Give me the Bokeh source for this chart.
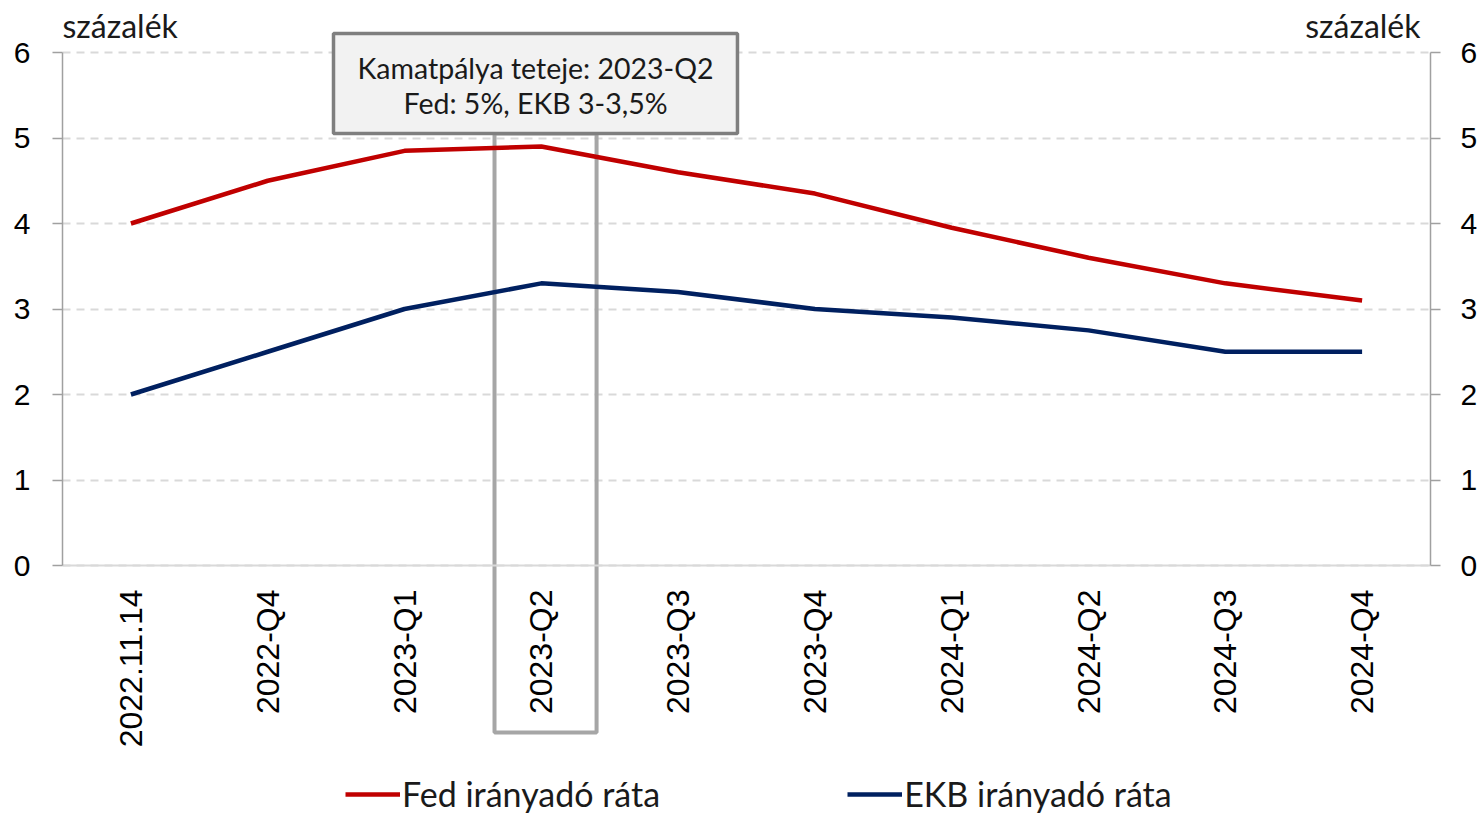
import math
from bokeh.plotting import figure
from bokeh.models import (ColumnDataSource, FactorRange, Range1d, LinearAxis, FixedTicker,
                          BoxAnnotation, Label, Legend, LegendItem)
from bokeh.embed import file_html
from bokeh.resources import INLINE

categories = ["2022.11.14", "2022-Q4", "2023-Q1", "2023-Q2", "2023-Q3",
              "2023-Q4", "2024-Q1", "2024-Q2", "2024-Q3", "2024-Q4"]
fed_rate = [4.0, 4.5, 4.85, 4.9, 4.6, 4.35, 3.95, 3.6, 3.3, 3.1]
ekb_rate = [2.0, 2.5, 3.0, 3.3, 3.2, 3.0, 2.9, 2.75, 2.5, 2.5]
y_ticks = [0, 1, 2, 3, 4, 5, 6]
unit_label = "százalék"
note_lines = ["Kamatpálya teteje: 2023-Q2", "Fed: 5%, EKB 3-3,5%"]
peak_category = "2023-Q2"
series_names = ["Fed irányadó ráta", "EKB irányadó ráta"]

FED_COLOR = "#c00000"
EKB_COLOR = "#002060"
AXIS_COLOR = "#a0a0a0"
TEXT_FONT = "Lato"
TICK_FONT = "Liberation Sans"

src = ColumnDataSource(dict(cat=categories, fed=fed_rate, ekb=ekb_rate))

W, H = 1480, 814
p = figure(width=W, height=H, x_range=FactorRange(*categories, range_padding=0),
           y_range=Range1d(-(H - 565) / 85.5, 565 / 85.5), output_backend="svg",
           toolbar_location=None,
           min_border_left=62, min_border_right=W - 1430, min_border_top=0, min_border_bottom=0)
p.outline_line_color = None
p.background_fill_color = "white"

# grid
p.xgrid.grid_line_color = None
p.ygrid.ticker = FixedTicker(ticks=y_ticks)
p.ygrid.grid_line_color = "#d9d9d9"
p.ygrid.grid_line_width = 2
p.ygrid.grid_line_dash = "8 6"

# x axis, fixed at y = 0
xa = p.xaxis[0]
xa.fixed_location = 0
xa.axis_line_color = "#d9d9d9"
xa.axis_line_width = 2
xa.major_tick_line_color = None
xa.major_tick_out = 0
xa.major_tick_in = 0
xa.major_label_orientation = math.pi / 2
xa.major_label_standoff = 24
xa.major_label_text_font = TICK_FONT
xa.major_label_text_font_size = "32px"
xa.major_label_text_color = "black"

# y axes
ya = p.yaxis[0]
ra = LinearAxis()
p.add_layout(ra, "right")
for ax in (ya, ra):
    ax.ticker = FixedTicker(ticks=y_ticks)
    ax.bounds = (0, 6)
    ax.axis_line_color = AXIS_COLOR
    ax.axis_line_width = 1.5
    ax.major_tick_line_color = AXIS_COLOR
    ax.major_tick_line_width = 1.5
    ax.major_tick_out = 10
    ax.major_tick_in = 0
    ax.minor_tick_line_color = None
    ax.major_label_text_font = TICK_FONT
    ax.major_label_text_font_size = "30px"
    ax.major_label_text_color = "black"
ya.major_label_standoff = 22
ra.major_label_standoff = 20

# highlight rectangle around peak and note box
c = categories.index(peak_category) + 0.5
rect = BoxAnnotation(left=c - 0.342, right=c + 0.404, top=5.053, bottom=-1.953,
                     fill_color=None, fill_alpha=0, line_color="#a6a6a6", line_alpha=1,
                     line_width=4, level="underlay")
p.add_layout(rect)
box = BoxAnnotation(left=c - 1.519, right=c + 1.434, top=6.222, bottom=5.053,
                    fill_color="#f2f2f2", fill_alpha=1, line_color="#7f7f7f", line_alpha=1,
                    line_width=3.5, level="underlay")
p.add_layout(box)
for txt, yy in zip(note_lines, [5.813, 5.404]):
    p.add_layout(Label(x=c - 0.042, y=yy, text=txt, text_align="center", text_baseline="middle",
                       text_font=TEXT_FONT, text_font_size="28.5px", text_color="#1a1a1a"))

# unit labels
p.add_layout(Label(x=0.0, y=6.316, text=unit_label, text_align="left", text_baseline="middle",
                   text_font=TEXT_FONT, text_font_size="32px", text_color="#1a1a1a"))
p.add_layout(Label(x=9.927, y=6.316, text=unit_label, text_align="right", text_baseline="middle",
                   text_font=TEXT_FONT, text_font_size="32px", text_color="#1a1a1a"))

# lines
r_fed = p.line("cat", "fed", source=src, line_color=FED_COLOR, line_width=4.5)
r_ekb = p.line("cat", "ekb", source=src, line_color=EKB_COLOR, line_width=4.5)

legend = Legend(items=[LegendItem(label=series_names[0], renderers=[r_fed]),
                       LegendItem(label=series_names[1], renderers=[r_ekb])],
                location=(283, 0), orientation="horizontal", spacing=187,
                glyph_width=55, glyph_height=34, label_standoff=2, padding=0, margin=0,
                border_line_color=None, background_fill_alpha=0,
                label_text_font=TEXT_FONT, label_text_font_size="34px", label_text_color="#1a1a1a",
                label_height=34)
p.add_layout(legend, "center")

open("out.html", "w").write(file_html(p, INLINE))
